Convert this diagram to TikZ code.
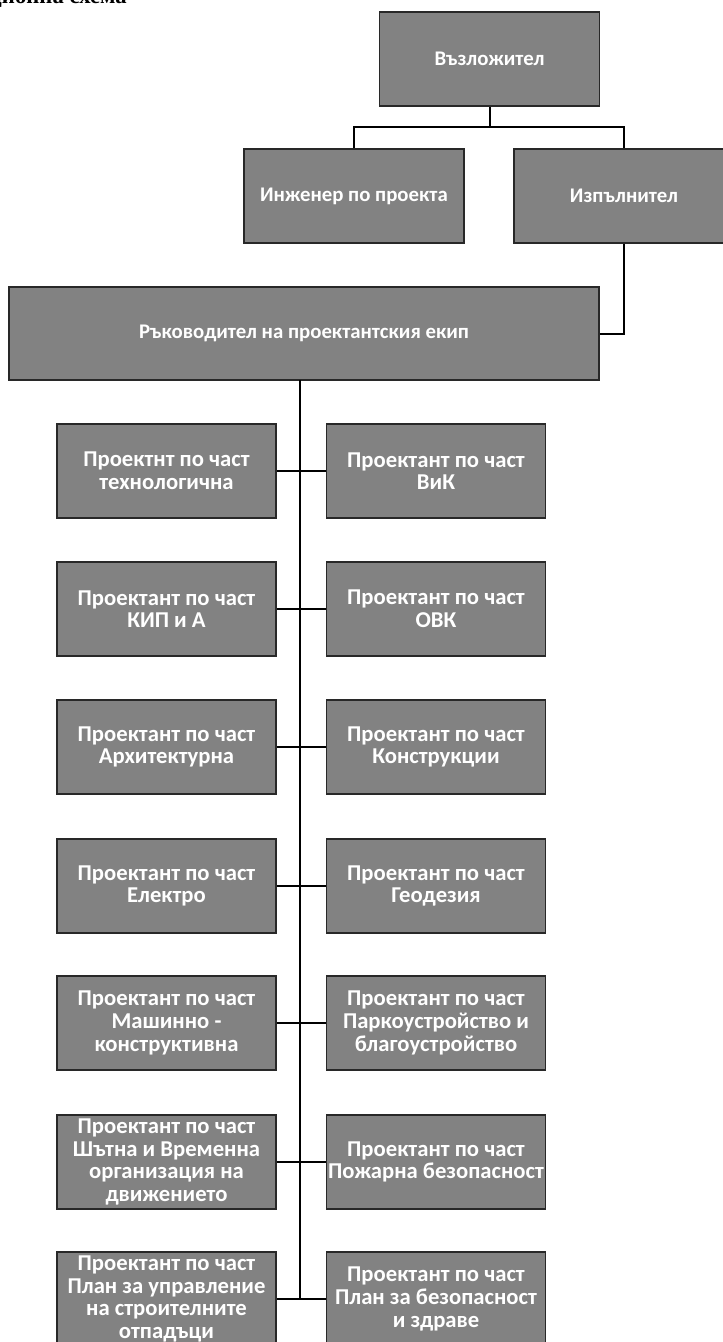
\documentclass[tikz,border=0pt]{standalone}
\usepackage{fontspec}
\setmainfont{Carlito}
\newfontfamily\titlefont{Liberation Serif}
\definecolor{boxgray}{RGB}{130,130,130}
\definecolor{edgegray}{RGB}{40,40,40}
\tikzset{
  orgbox/.style={draw=edgegray, line width=1pt, fill=boxgray, text=white,
    font=\fontsize{17}{17}\selectfont\bfseries, align=center,
    minimum width=219*0.75pt, minimum height=94*0.75pt, inner sep=1pt},
  topbox/.style={orgbox, font=\fontsize{15.6}{17}\selectfont\bfseries, minimum width=220*0.75pt},
  link/.style={line width=1.5pt, draw=black},
  spine/.style={line width=1.8pt, draw=black}
}
\begin{document}
\begin{tikzpicture}[x=0.75pt,y=-0.75pt]
\useasboundingbox (0,0) rectangle (722,1342);
% partially visible title
\node[anchor=base east, font=\titlefont\fontsize{17}{20}\selectfont\bfseries, inner sep=0pt] (title) at (127,3) {Организационна схема};
% top part
\node[topbox] (vz) at (489.5,59) {Възложител};
\node[topbox] (ing) at (354,196) {Инженер по проекта};
\node[topbox] (izp) at (624,196) {Изпълнител};
\node[topbox, minimum width=590*0.75pt, minimum height=93*0.75pt] (ruk) at (304,333.5) {Ръководител на проектантския екип};
\coordinate (j) at (489.5,127);
\draw[link] (vz.south) -- (j);
\draw[link] (ing.north) -- (ing.north |- j) -- (izp.north |- j) -- (izp.north);
\draw[link] (izp.south) |- (ruk.east);
% rows
\node[orgbox] (l1) at (166.5,471) {Проектнт по част\\технологична};
\node[orgbox] (r1) at (436,471) {Проектант по част\\ВиК};
\node[orgbox] (l2) at (166.5,609) {Проектант по част\\КИП и А};
\node[orgbox] (r2) at (436,609) {Проектант по част\\ОВК};
\node[orgbox] (l3) at (166.5,747) {Проектант по част\\Архитектурна};
\node[orgbox] (r3) at (436,747) {Проектант по част\\Конструкции};
\node[orgbox] (l4) at (166.5,886) {Проектант по част\\Електро};
\node[orgbox] (r4) at (436,886) {Проектант по част\\Геодезия};
\node[orgbox] (l5) at (166.5,1023) {Проектант по част\\Машинно -\\конструктивна};
\node[orgbox] (r5) at (436,1023) {Проектант по част\\Паркоустройство и\\благоустройство};
\node[orgbox] (l6) at (166.5,1162) {Проектант по част\\Шътна и Временна\\организация на\\движението};
\node[orgbox] (r6) at (436,1162) {Проектант по част\\Пожарна безопасност};
\node[orgbox] (l7) at (166.5,1299) {Проектант по част\\План за управление\\на строителните\\отпадъци};
\node[orgbox] (r7) at (436,1299) {Проектант по част\\План за безопасност\\и здраве};
% spine
\coordinate (st) at (300,380);
\coordinate (sb) at (300,1299);
\draw[spine] (st) -- (sb);
\foreach \i in {1,...,7} {\draw[link] (l\i.east) -- (r\i.west);}
\end{tikzpicture}
\end{document}
